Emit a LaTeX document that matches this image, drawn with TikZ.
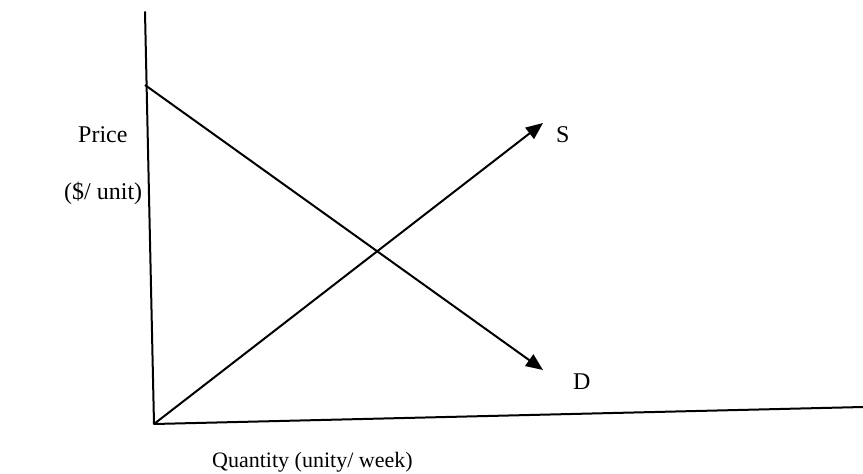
\documentclass[tikz,border=0pt]{standalone}
\usepackage{fontspec}
\setmainfont{Liberation Serif}
\usetikzlibrary{arrows.meta}
\begin{document}
\begin{tikzpicture}[x=1pt,y=-1pt,
  axisline/.style={line width=2pt, line cap=round, line join=round},
  curve/.style={line width=2pt, -{Triangle[length=17pt,width=14pt]}},
  lbl/.style={inner sep=0pt, anchor=base west, font=\fontsize{24}{24}\selectfont}]
\useasboundingbox (0,0) rectangle (863,474);
\coordinate (Ytop) at (145,12);
\coordinate (O) at (154,424);
\coordinate (Xend) at (863,407);
\coordinate (Dstart) at (145,85);
\coordinate (Stip) at (543,123);
\coordinate (Dtip) at (543,370);
\draw[axisline] (Ytop) -- (O) -- (Xend);
\draw[curve] (Dstart) -- (Dtip);
\draw[curve] (O) -- (Stip);
\node[lbl] (price) at (78,142) {Price};
\node[lbl] (unit) at (64,199) {(\$/ unit)};
\node[lbl] (S) at (556,142) {S};
\node[lbl] (D) at (573,389) {D};
\node[lbl, font=\fontsize{22}{22}\selectfont] (qty) at (212,467) {Quantity (unity/ week)};
\end{tikzpicture}
\end{document}
